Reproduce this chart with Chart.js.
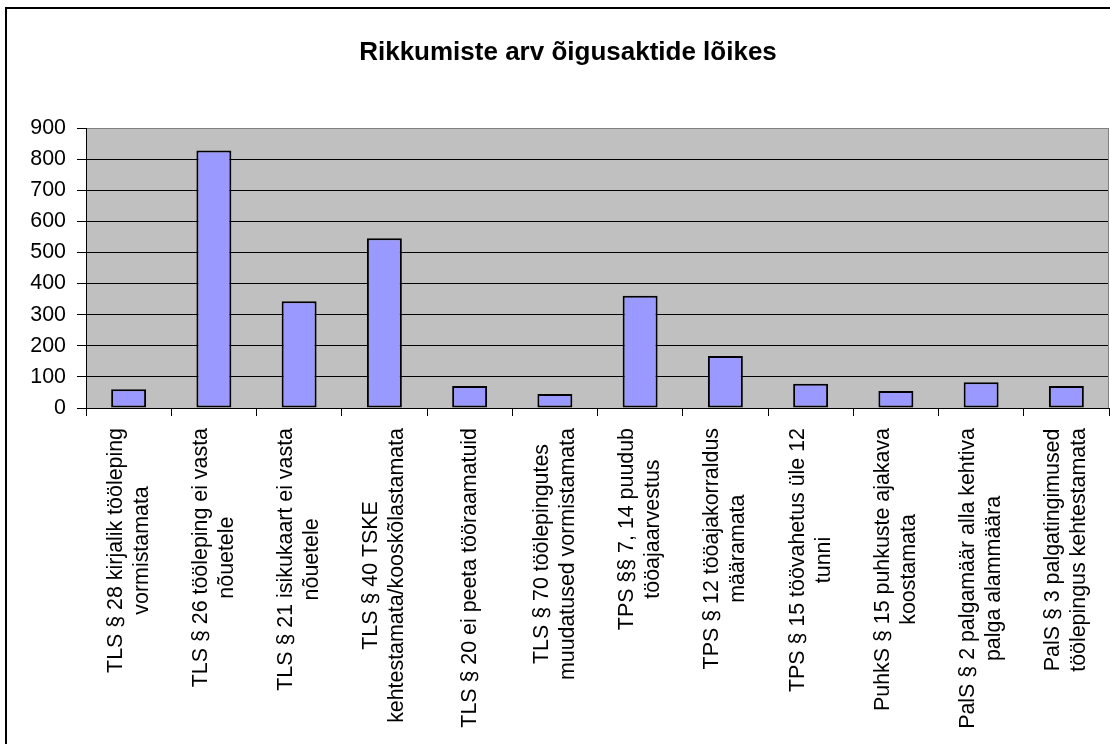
<!DOCTYPE html>
<html>
<head>
<meta charset="utf-8">
<script src="https://cdn.jsdelivr.net/npm/chart.js@4"></script>
<style>
  html, body { margin: 0; padding: 0; background: #fff; }
  #wrap { width: 1110px; height: 744px; position: relative; }
</style>
</head>
<body>
<div id="wrap"><canvas id="c" width="1110" height="744"></canvas></div>
<script>
const chartTitle = 'Rikkumiste arv õigusaktide lõikes';
const categories = [
  ['TLS § 28 kirjalik tööleping', 'vormistamata'],
  ['TLS § 26 tööleping ei vasta', 'nõuetele'],
  ['TLS § 21 isikukaart ei vasta', 'nõuetele'],
  ['TLS § 40 TSKE', 'kehtestamata/kooskõlastamata'],
  ['TLS § 20 ei peeta tööraamatuid'],
  ['TLS § 70 töölepingutes', 'muudatused vormistamata'],
  ['TPS §§ 7, 14 puudub', 'tööajaarvestus'],
  ['TPS § 12 tööajakorraldus', 'määramata'],
  ['TPS § 15 töövahetus üle 12', 'tunni'],
  ['PuhkS § 15 puhkuste ajakava', 'koostamata'],
  ['PalS § 2 palgamäär alla kehtiva', 'palga alammäära'],
  ['PalS § 3 palgatingimused', 'töölepingus kehtestamata']
];
const values = [60, 828, 343, 546, 71, 45, 361, 167, 78, 55, 83, 71];
const yMin = 0, yMax = 900, yStep = 100;

const FONT = "'Liberation Sans', Arial, sans-serif";
const AXIS_SIZE = 21.4;

const decor = {
  id: 'decor',
  beforeDraw(chart) {
    const ctx = chart.ctx, a = chart.chartArea;
    ctx.save();
    ctx.fillStyle = '#ffffff';
    ctx.fillRect(0, 0, chart.width, chart.height);
    ctx.fillStyle = '#C0C0C0';
    ctx.fillRect(a.left, a.top, a.right - a.left, a.bottom - a.top);
    ctx.restore();
  },
  afterDraw(chart) {
    const ctx = chart.ctx, a = chart.chartArea;
    const xs = chart.scales.x;
    ctx.save();
    // right plot border
    ctx.strokeStyle = '#808080';
    ctx.lineWidth = 1;
    ctx.beginPath();
    ctx.moveTo(Math.round(a.right) - 0.5, a.top);
    ctx.lineTo(Math.round(a.right) - 0.5, a.bottom);
    ctx.stroke();
    // outer chart border (left/top)
    ctx.fillStyle = '#000';
    ctx.fillRect(5, 7, 2, chart.height - 7);
    ctx.fillRect(5, 7, chart.width - 5, 2);
    // title
    ctx.fillStyle = '#000';
    ctx.font = 'bold 26px ' + FONT;
    ctx.textAlign = 'center';
    ctx.textBaseline = 'middle';
    ctx.fillText(chartTitle, 568, 53);
    // category labels, rotated, lines centered
    ctx.font = AXIS_SIZE + 'px ' + FONT;
    const lh = 26;
    const topY = 428;
    categories.forEach((lines, i) => {
      const x = xs.getPixelForValue(i);
      let maxW = 0;
      lines.forEach(l => { maxW = Math.max(maxW, ctx.measureText(l).width); });
      ctx.save();
      ctx.translate(x, topY);
      ctx.rotate(-Math.PI / 2);
      ctx.textAlign = 'center';
      ctx.textBaseline = 'middle';
      lines.forEach((l, j) => {
        const off = (j - (lines.length - 1) / 2) * lh;
        ctx.fillText(l, -maxW / 2, off);
      });
      ctx.restore();
    });
    ctx.restore();
  }
};

new Chart(document.getElementById('c'), {
  type: 'bar',
  data: {
    labels: categories,
    datasets: [{
      data: values,
      backgroundColor: '#9999FF',
      borderColor: '#000000',
      borderWidth: 2,
      borderSkipped: false,
      barPercentage: 0.41,
      categoryPercentage: 1.0
    }]
  },
  options: {
    responsive: false,
    animation: false,
    devicePixelRatio: 1,
    layout: { padding: { left: 0, top: 128, right: 1, bottom: 0 } },
    plugins: {
      legend: { display: false },
      title: { display: false },
      tooltip: { enabled: false }
    },
    scales: {
      x: {
        offset: true,
        ticks: { display: false },
        grid: {
          offset: true,
          drawOnChartArea: false,
          drawTicks: true,
          tickLength: 8,
          color: '#000',
          tickColor: '#000'
        },
        border: { display: true, color: '#000', width: 1 },
        afterFit(scale) { scale.height = 336; }
      },
      y: {
        min: yMin,
        max: yMax,
        ticks: {
          stepSize: yStep,
          color: '#000',
          font: { family: FONT, size: AXIS_SIZE },
          padding: 11
        },
        grid: {
          color: (c) => (c.tick && c.tick.value === yMax) ? '#808080' : '#000',
          tickColor: '#000',
          tickLength: 9,
          lineWidth: 1
        },
        border: { display: true, color: '#000', width: 1 },
        afterFit(scale) { scale.width = 86; }
      }
    }
  },
  plugins: [decor]
});
</script>
</body>
</html>
